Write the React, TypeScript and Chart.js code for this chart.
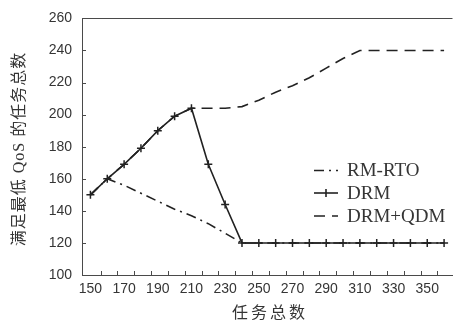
import { useEffect, useRef } from 'react';
import { Chart, registerables } from 'chart.js';

Chart.register(...registerables);

// ---- data ----
const taskTotals = [150, 160, 170, 180, 190, 200, 210, 220, 230, 240, 250, 260, 270, 280, 290, 300, 310, 320, 330, 340, 350, 360];
const rmRto = [150, 160, 156, 151, 146, 141, 137, 132, 126, 120, 120, 120, 120, 120, 120, 120, 120, 120, 120, 120, 120, 120];
const drm = [150, 160, 169, 179, 190, 199, 204, 169, 144, 120, 120, 120, 120, 120, 120, 120, 120, 120, 120, 120, 120, 120];
const drmQdm = [150, 160, 169, 179, 190, 199, 204, 204, 204, 205, 209, 214, 218, 223, 229, 235, 240, 240, 240, 240, 240, 240];
const seriesNames = ['RM-RTO', 'DRM', 'DRM+QDM'];
const xTickLabels = [150, 170, 190, 210, 230, 250, 270, 290, 310, 330, 350];
const xMinorTicks = [156, 166, 176, 186, 196, 206, 216, 226, 236, 246, 256, 266, 276, 286, 296, 306, 316, 326, 336, 346, 356];
const yTickValues = [100, 120, 140, 160, 180, 200, 220, 240, 260];
const xTitle = '任务总数';
const yTitle = '满足最低 QoS 的任务总数';

const lineColor = '#222222';
const axisColor = '#4a4a4a';
const textColor = '#353535';

const decorPlugin = {
  id: 'decor',
  afterDraw(chart: any) {
    const { ctx, chartArea, scales } = chart;
    const { left, right, top, bottom } = chartArea;
    const x = scales.x;
    const y = scales.y;
    ctx.save();
    ctx.strokeStyle = axisColor;
    ctx.lineWidth = 1;
    ctx.beginPath();
    ctx.moveTo(left, Math.round(top) + 0.5);
    ctx.lineTo(right, Math.round(top) + 0.5);
    xMinorTicks.forEach((v) => {
      const px = Math.round(x.getPixelForValue(v)) + 0.5;
      ctx.moveTo(px, bottom);
      ctx.lineTo(px, bottom - 4);
    });
    yTickValues.slice(1, -1).forEach((v) => {
      const py = Math.round(y.getPixelForValue(v)) + 0.5;
      ctx.moveTo(left, py);
      ctx.lineTo(left + 4, py);
    });
    ctx.stroke();

    // axis titles
    ctx.fillStyle = textColor;
    ctx.textAlign = 'center';
    ctx.textBaseline = 'middle';
    ctx.font = '16px "Noto Sans CJK SC"';
    (ctx as any).letterSpacing = '3px';
    ctx.fillText(xTitle, 270, 312);
    (ctx as any).letterSpacing = '1px';
    ctx.save();
    ctx.translate(20, 149);
    ctx.rotate(-Math.PI / 2);
    ctx.font = '16px "Liberation Serif", "Noto Sans CJK SC"';
    ctx.fillText(yTitle, 0, 0);
    ctx.restore();
    (ctx as any).letterSpacing = '0px';

    // legend
    const rows = [170.5, 193, 216];
    chart.data.datasets.forEach((ds: any, i: number) => {
      const ly = rows[i];
      ctx.save();
      ctx.strokeStyle = ds.borderColor;
      ctx.lineWidth = ds.borderWidth;
      ctx.setLineDash(ds.borderDash || []);
      ctx.beginPath();
      ctx.moveTo(314, ly);
      ctx.lineTo(338, ly);
      ctx.stroke();
      ctx.setLineDash([]);
      if (ds.pointRadius > 0) {
        ctx.beginPath();
        ctx.moveTo(326, ly - 4);
        ctx.lineTo(326, ly + 4);
        ctx.stroke();
      }
      ctx.restore();
      ctx.fillStyle = textColor;
      ctx.textAlign = 'left';
      ctx.textBaseline = 'middle';
      ctx.font = '19px "Liberation Serif"';
      ctx.fillText(ds.label, 347, ly + 1);
    });
    ctx.restore();
  },
};

export default function App() {
  const canvasRef = useRef<HTMLCanvasElement | null>(null);

  useEffect(() => {
    const canvas = canvasRef.current;
    if (!canvas) return;
    const toPoints = (vals: number[]) => taskTotals.map((t, i) => ({ x: t, y: vals[i] }));
    const chart = new Chart(canvas, {
      type: 'line',
      data: {
        datasets: [
          {
            label: seriesNames[0],
            data: toPoints(rmRto),
            borderColor: lineColor,
            borderWidth: 1.6,
            borderDash: [10, 5, 2, 5],
            pointRadius: 0,
            tension: 0,
          },
          {
            label: seriesNames[1],
            data: toPoints(drm),
            borderColor: lineColor,
            borderWidth: 1.6,
            pointStyle: 'cross',
            pointRadius: 4,
            pointBorderWidth: 1.5,
            pointBorderColor: lineColor,
            tension: 0,
          },
          {
            label: seriesNames[2],
            data: toPoints(drmQdm),
            borderColor: lineColor,
            borderWidth: 1.6,
            borderDash: [11, 7],
            pointRadius: 0,
            tension: 0,
          },
        ],
      },
      options: {
        animation: false,
        responsive: true,
        maintainAspectRatio: false,
        layout: { padding: { top: 15, right: 0, bottom: 0, left: 0 } },
        plugins: {
          legend: { display: false },
          tooltip: { enabled: false },
        },
        scales: {
          x: {
            type: 'linear',
            min: 145,
            max: 365,
            grid: { display: false, drawTicks: false },
            border: { display: true, color: axisColor, width: 1 },
            ticks: {
              padding: 6,
              color: textColor,
              font: { family: '"Liberation Sans"', size: 14 },
              maxRotation: 0,
            },
            afterBuildTicks: (s: any) => {
              s.ticks = xTickLabels.map((v) => ({ value: v }));
            },
            afterFit: (s: any) => {
              s.height = 47;
            },
          },
          y: {
            type: 'linear',
            min: 100,
            max: 260,
            grid: { display: false, drawTicks: false },
            border: { display: true, color: axisColor, width: 1 },
            ticks: {
              padding: 10,
              color: textColor,
              font: { family: '"Liberation Sans"', size: 14 },
            },
            afterBuildTicks: (s: any) => {
              s.ticks = yTickValues.map((v) => ({ value: v }));
            },
            afterFit: (s: any) => {
              s.width = 82;
            },
          },
        },
      },
      plugins: [decorPlugin],
    });
    return () => chart.destroy();
  }, []);

  return (
    <div style={{ position: 'fixed', left: 0, top: 0, width: 458, height: 322, background: '#fff' }}>
      <canvas ref={canvasRef} />
    </div>
  );
}
